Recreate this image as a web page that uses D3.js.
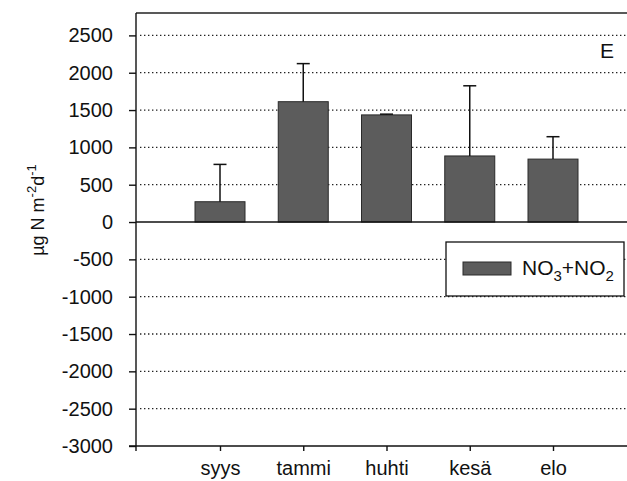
<!DOCTYPE html>
<meta charset="utf-8">
<style>
  body { margin: 0; background: #fff; }
  svg { font-family: Arial, "Liberation Sans", sans-serif; }
  .grid line { stroke: #222; stroke-width: 1.3; stroke-dasharray: 1.4,2.6; }
  .axis path, .axis line { stroke: #111; stroke-width: 1.4; }
  .axis text { font-size: 20px; fill: #111; }
  .bar { fill: #5c5c5c; stroke: #2a2a2a; stroke-width: 1; }
  .err { stroke: #111; stroke-width: 1.5; fill: none; }
</style>
<body>
<script src="https://d3js.org/d3.v7.min.js"></script>
<script>

var months = ["syys", "tammi", "huhti", "kesä", "elo"];
var values = [272, 1612, 1435, 885, 843];
var errUp = [500, 510, 10, 940, 300];
var yTicks = [-3000, -2500, -2000, -1500, -1000, -500, 0, 500, 1000, 1500, 2000, 2500];

var W = 627, H = 481;
var plotL = 136, plotT = 13, plotR = 640, plotB = 446;

var svg = d3.select("body").append("svg")
    .attr("width", W)
    .attr("height", H);

var y = d3.scaleLinear().domain([-3000, 2800]).range([plotB, plotT]);
var x = d3.scalePoint().domain(months).range([220, 553]);

// dotted gridlines
svg.append("g")
    .attr("class", "grid")
    .selectAll("line")
    .data(yTicks.filter(function(d) { return d != 0 && d != -3000; }))
    .enter().append("line")
    .attr("x1", plotL + 4).attr("x2", plotR)
    .attr("y1", function(d) { return y(d); })
    .attr("y2", function(d) { return y(d); });

// top frame
svg.append("line")
    .attr("x1", plotL).attr("x2", plotR)
    .attr("y1", plotT).attr("y2", plotT)
    .attr("stroke", "#222").attr("stroke-width", 1.5);

// bars
svg.selectAll(".bar")
    .data(values)
    .enter().append("rect")
    .attr("class", "bar")
    .attr("x", function(d, i) { return x(months[i]) - 25; })
    .attr("width", 50)
    .attr("y", function(d) { return y(d); })
    .attr("height", function(d) { return y(0) - y(d); });

// error bars (upper only)
var eb = svg.append("g").selectAll("g")
    .data(values)
    .enter().append("g");
eb.append("line")
    .attr("class", "err")
    .attr("x1", function(d, i) { return x(months[i]); })
    .attr("x2", function(d, i) { return x(months[i]); })
    .attr("y1", function(d) { return y(d); })
    .attr("y2", function(d, i) { return y(d + errUp[i]); });
eb.append("line")
    .attr("class", "err")
    .attr("x1", function(d, i) { return x(months[i]) - 6.5; })
    .attr("x2", function(d, i) { return x(months[i]) + 6.5; })
    .attr("y1", function(d, i) { return y(d + errUp[i]); })
    .attr("y2", function(d, i) { return y(d + errUp[i]); });

// zero line
svg.append("line")
    .attr("x1", plotL).attr("x2", plotR)
    .attr("y1", y(0)).attr("y2", y(0))
    .attr("stroke", "#111").attr("stroke-width", 1.4);

// y axis
var yAxis = svg.append("g")
    .attr("class", "axis")
    .attr("transform", "translate(" + plotL + ",0)")
    .call(d3.axisLeft(y).tickValues(yTicks).tickSize(7).tickPadding(16).tickSizeOuter(0)
        .tickFormat(function(d) { return String(d); }));
yAxis.select(".domain").attr("d", "M0," + (plotB + 5) + "V" + plotT);

// x axis
var xAxis = svg.append("g")
    .attr("class", "axis")
    .attr("transform", "translate(0," + plotB + ")")
    .call(d3.axisBottom(x).tickSize(5).tickPadding(10).tickSizeOuter(0));
xAxis.select(".domain").attr("d", "M" + (plotL - 7) + ",0H" + plotR);

// y title
var yt = svg.append("text")
    .attr("transform", "translate(44,210) rotate(-90)")
    .attr("text-anchor", "middle")
    .style("font-size", "18px")
    .attr("fill", "#111");
yt.append("tspan").text("µg N m");
yt.append("tspan").attr("dy", -8).style("font-size", "13px").text("-2");
yt.append("tspan").attr("dy", 8).text("d");
yt.append("tspan").attr("dy", -8).style("font-size", "13px").text("-1");

// panel letter
svg.append("text")
    .attr("x", 600).attr("y", 58)
    .style("font-size", "21px")
    .attr("fill", "#111")
    .text("E");

// legend
var lg = svg.append("g");
lg.append("rect")
    .attr("x", 446).attr("y", 242).attr("width", 178).attr("height", 54)
    .attr("fill", "#fff").attr("stroke", "#111").attr("stroke-width", 1.3);
lg.append("rect")
    .attr("class", "bar")
    .attr("x", 463).attr("y", 262).attr("width", 48).attr("height", 13);
var lt = lg.append("text")
    .attr("x", 522).attr("y", 275)
    .style("font-size", "21px")
    .attr("fill", "#111");
lt.append("tspan").text("NO");
lt.append("tspan").attr("dy", 6).style("font-size", "15px").text("3");
lt.append("tspan").attr("dy", -6).text("+NO");
lt.append("tspan").attr("dy", 6).style("font-size", "15px").text("2");

</script>
